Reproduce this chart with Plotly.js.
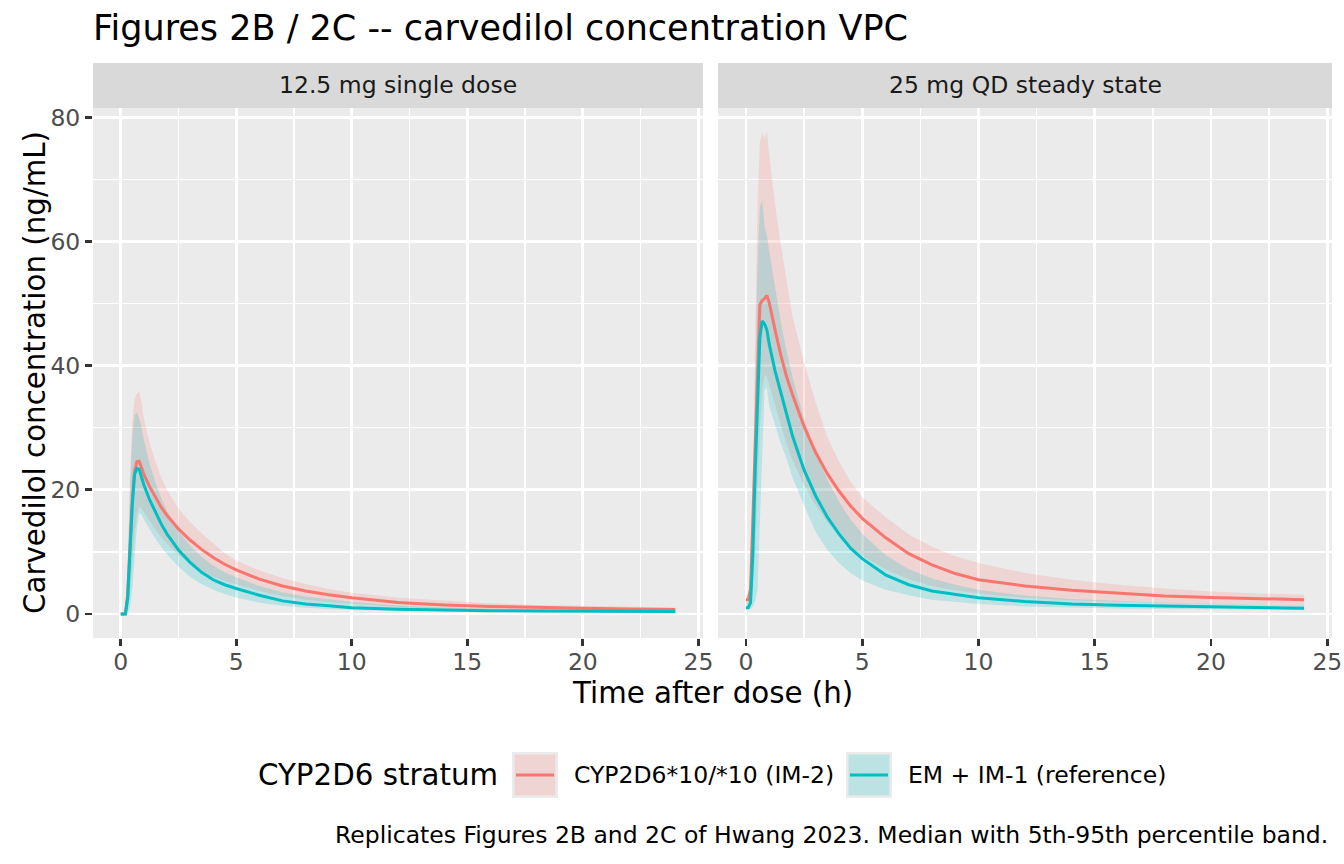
<!DOCTYPE html>
<html>
<head>
<meta charset="utf-8">
<script src="https://cdn.plot.ly/plotly-3.0.1.min.js"></script>
<style>
  body { margin: 0; background: #ffffff; }
</style>
</head>
<body>
<div id="chart" style="width:1344px;height:864px;"></div>
<script>
// time after dose (h), shared by both panels
var timeH = [0, 0.1, 0.2, 0.3, 0.4, 0.5, 0.6, 0.7, 0.8, 0.9, 1.0, 1.25, 1.5, 1.75, 2, 2.5, 3, 3.5, 4, 4.5, 5, 6, 7, 8, 9, 10, 12, 14, 16, 18, 20, 22, 24];

var panelNames = ["12.5 mg single dose", "25 mg QD steady state"];
var groupNames = ["CYP2D6*10/*10 (IM-2)", "EM + IM-1 (reference)"];

// 12.5 mg single dose -- CYP2D6*10/*10
var sdIm2Med = [0, 0, 0, 3, 11, 18.5, 23, 24.5, 24.6, 23.6, 22.5, 20.5, 18.8, 17.2, 15.9, 13.7, 11.9, 10.4, 9.1, 8.0, 7.1, 5.6, 4.5, 3.7, 3.1, 2.6, 1.85, 1.45, 1.2, 1.0, 0.9, 0.8, 0.7];
var sdIm2Lo  = [0, 0, 0, 0.5, 3, 8, 13, 16, 17.3, 17.0, 16.4, 15, 13.6, 12.4, 11.3, 9.5, 8.1, 6.9, 6.0, 5.3, 4.8, 3.7, 2.9, 2.3, 1.9, 1.6, 1.1, 0.85, 0.7, 0.6, 0.52, 0.46, 0.42];
var sdIm2Hi  = [0, 0, 0.2, 8, 22, 31, 34.5, 35.5, 35.8, 34, 31.5, 27.5, 24.5, 22, 20, 17, 14.8, 13, 11.4, 9.8, 8.6, 7.0, 5.8, 4.8, 4.0, 3.4, 2.6, 2.1, 1.7, 1.45, 1.3, 1.15, 1.05];

// 12.5 mg single dose -- EM + IM-1
var sdRefMed = [0, 0, 0, 2.5, 10, 17.5, 22.5, 23.4, 23.3, 22, 20.8, 18.4, 16.3, 14.5, 12.9, 10.3, 8.3, 6.7, 5.5, 4.7, 4.1, 3.0, 2.1, 1.6, 1.3, 1.0, 0.75, 0.6, 0.52, 0.47, 0.43, 0.4, 0.38];
var sdRefLo  = [0, 0, 0, 0, 1, 4, 9, 14, 16.2, 16.0, 15.2, 13.6, 12.1, 10.8, 9.6, 7.6, 6.0, 4.8, 3.9, 3.2, 2.6, 1.8, 1.3, 1.0, 0.8, 0.65, 0.48, 0.38, 0.33, 0.3, 0.27, 0.25, 0.23];
var sdRefHi  = [0, 0, 0.1, 7, 20, 28.5, 32, 32.5, 31.5, 30, 28, 24.2, 21.2, 18.7, 16.6, 13.4, 11, 9.2, 7.8, 6.7, 5.9, 4.5, 3.5, 2.8, 2.3, 1.9, 1.35, 1.05, 0.88, 0.78, 0.7, 0.64, 0.6];

// 25 mg QD steady state -- CYP2D6*10/*10
var ssIm2Med = [2.3, 2.3, 4, 16, 28, 40, 49.8, 50.5, 50.8, 51.3, 50.2, 45.8, 41.7, 38.2, 35.4, 30.2, 26.0, 22.6, 19.8, 17.4, 15.4, 12.3, 9.7, 7.9, 6.5, 5.5, 4.5, 3.8, 3.3, 2.9, 2.65, 2.45, 2.3];
var ssIm2Lo  = [1.6, 1.6, 2, 4, 10, 20, 30, 36, 38.5, 38.3, 37, 33.5, 30.2, 27.3, 24.8, 20.8, 17.5, 14.8, 12.6, 10.8, 9.4, 7.2, 5.6, 4.5, 3.8, 3.3, 2.6, 2.2, 1.95, 1.75, 1.6, 1.5, 1.45];
var ssIm2Hi  = [3.0, 3.1, 6, 22, 45, 66, 76, 77.5, 76.5, 77.8, 74, 66, 59.5, 53.5, 48, 40.5, 34, 28.5, 24.5, 21.3, 18.8, 15.6, 12.8, 10.8, 9.3, 8.2, 6.6, 5.5, 4.7, 4.1, 3.6, 3.3, 3.1];

// 25 mg QD steady state -- EM + IM-1
var ssRefMed = [1.0, 1.0, 1.8, 10, 23, 35, 44.5, 47.2, 46.7, 45.8, 43.5, 39.2, 35.8, 32, 28.7, 23.2, 19.0, 15.6, 12.9, 10.6, 8.9, 6.3, 4.7, 3.7, 3.1, 2.6, 2.0, 1.6, 1.4, 1.25, 1.1, 1.0, 0.9];
var ssRefLo  = [0.7, 0.7, 0.8, 1.2, 2, 4, 14, 27, 36, 36.5, 33.5, 30.5, 27.5, 25, 22, 17.5, 13.2, 10.3, 8.2, 6.6, 5.4, 3.9, 3.0, 2.3, 1.9, 1.6, 1.2, 0.98, 0.86, 0.78, 0.72, 0.68, 0.64];
var ssRefHi  = [1.6, 1.7, 3.5, 18, 38, 56, 65.5, 66.5, 62.5, 61, 58.5, 52.5, 47, 42.3, 38.2, 31.5, 26, 21.6, 18.1, 15.2, 12.9, 9.5, 7.2, 5.7, 4.7, 3.9, 2.95, 2.4, 2.05, 1.8, 1.62, 1.5, 1.4];

var im2Color = "#F8766D";
var refColor = "#00BFC4";
var im2Fill = "rgba(248,118,109,0.2)";
var refFill = "rgba(0,191,196,0.2)";
var fontFam = "DejaVu Sans, Verdana, sans-serif";

// pixel box of the panels, used to place strips / legend / labels
var plotL = 93, plotR = 1332, plotT = 108, plotB = 638;
function paperX(p) { return (p - plotL) / (plotR - plotL); }
function paperY(p) { return (plotB - p) / (plotB - plotT); }

function bandTraces(lo, hi, fillColor, xa, ya) {
  var lower = {
    x: timeH, y: lo, xaxis: xa, yaxis: ya,
    type: "scatter", mode: "lines",
    line: { width: 0 }, showlegend: false, hoverinfo: "skip"
  };
  var upper = {
    x: timeH, y: hi, xaxis: xa, yaxis: ya,
    type: "scatter", mode: "lines", fill: "tonexty", fillcolor: fillColor,
    line: { width: 0 }, showlegend: false, hoverinfo: "skip"
  };
  return [lower, upper];
}

function medianTrace(med, color, name, xa, ya) {
  return {
    x: timeH, y: med, xaxis: xa, yaxis: ya, name: name,
    type: "scatter", mode: "lines",
    line: { color: color, width: 3 }, showlegend: false
  };
}

var data = [];
data = data.concat(bandTraces(sdIm2Lo, sdIm2Hi, im2Fill, "x", "y"));
data = data.concat(bandTraces(sdRefLo, sdRefHi, refFill, "x", "y"));
data = data.concat(bandTraces(ssIm2Lo, ssIm2Hi, im2Fill, "x2", "y2"));
data = data.concat(bandTraces(ssRefLo, ssRefHi, refFill, "x2", "y2"));
data.push(medianTrace(sdIm2Med, im2Color, groupNames[0], "x", "y"));
data.push(medianTrace(sdRefMed, refColor, groupNames[1], "x", "y"));
data.push(medianTrace(ssIm2Med, im2Color, groupNames[0], "x2", "y2"));
data.push(medianTrace(ssRefMed, refColor, groupNames[1], "x2", "y2"));

var tickFont = { family: fontFam, size: 23.5, color: "#4D4D4D" };

function xAxis(domain) {
  return {
    domain: domain, range: [-1.2, 25.2], dtick: 5, tick0: 0,
    showgrid: true, gridcolor: "#FFFFFF", gridwidth: 2.8,
    minor: { dtick: 2.5, tick0: 0, showgrid: true, gridcolor: "#FFFFFF", gridwidth: 1.4 },
    zeroline: false, showline: false,
    ticks: "outside", ticklen: 7, tickwidth: 2.8, tickcolor: "#333333",
    ticklabelstandoff: -4,
    tickfont: tickFont
  };
}

var leftDom = [0, paperX(703)];
var rightDom = [paperX(718), 1];

var xa1 = xAxis(leftDom); xa1.anchor = "y";
var xa2 = xAxis(rightDom); xa2.anchor = "y2";

var yRange = [-3.88, 81.5];

var layout = {
  width: 1344, height: 864,
  margin: { l: plotL, r: 1344 - plotR, t: plotT, b: 864 - plotB },
  paper_bgcolor: "#FFFFFF",
  plot_bgcolor: "#EBEBEB",
  font: { family: fontFam, color: "#000000" },
  showlegend: false,
  title: {
    text: "Figures 2B / 2C -- carvedilol concentration VPC",
    font: { family: fontFam, size: 35, color: "#000000" },
    xref: "container", yref: "container",
    x: plotL / 1344, xanchor: "left",
    y: 1 - 28 / 864, yanchor: "middle"
  },
  xaxis: xa1,
  xaxis2: xa2,
  yaxis: {
    domain: [0, 1], range: yRange, dtick: 20, tick0: 0, anchor: "x",
    showgrid: true, gridcolor: "#FFFFFF", gridwidth: 2.8,
    minor: { dtick: 10, tick0: 0, showgrid: true, gridcolor: "#FFFFFF", gridwidth: 1.4 },
    zeroline: false, showline: false,
    ticks: "outside", ticklen: 7, tickwidth: 2.8, tickcolor: "#333333",
    tickfont: tickFont
  },
  yaxis2: {
    domain: [0, 1], range: yRange, dtick: 20, tick0: 0, anchor: "x2", matches: "y",
    showgrid: true, gridcolor: "#FFFFFF", gridwidth: 2.8,
    minor: { dtick: 10, tick0: 0, showgrid: true, gridcolor: "#FFFFFF", gridwidth: 1.4 },
    zeroline: false, showline: false, ticks: "", showticklabels: false
  },
  shapes: [],
  annotations: []
};

// facet strips
var stripTop = paperY(63);
[leftDom, rightDom].forEach(function(dom, i) {
  layout.shapes.push({
    type: "rect", xref: "paper", yref: "paper",
    x0: dom[0], x1: dom[1], y0: 1, y1: stripTop,
    fillcolor: "#D9D9D9", line: { width: 0 }, layer: "below"
  });
  layout.annotations.push({
    text: panelNames[i], xref: "paper", yref: "paper",
    x: (dom[0] + dom[1]) / 2, y: paperY(85.5),
    xanchor: "center", yanchor: "middle", showarrow: false,
    font: { family: fontFam, size: 23.5, color: "#1A1A1A" }
  });
});

// axis titles
layout.annotations.push({
  text: "Time after dose (h)", xref: "paper", yref: "paper",
  x: 0.5, y: paperY(693), xanchor: "center", yanchor: "middle", showarrow: false,
  font: { family: fontFam, size: 29.3, color: "#000000" }
});
layout.annotations.push({
  text: "Carvedilol concentration (ng/mL)", xref: "paper", yref: "paper",
  x: paperX(35), y: paperY(373), xanchor: "center", yanchor: "middle",
  textangle: -90, showarrow: false,
  font: { family: fontFam, size: 29.3, color: "#000000" }
});

// legend (drawn by hand to get ggplot-style square keys)
layout.annotations.push({
  text: "CYP2D6 stratum", xref: "paper", yref: "paper",
  x: paperX(256), y: paperY(775), xanchor: "left", yanchor: "middle", showarrow: false,
  font: { family: fontFam, size: 29.3, color: "#000000" }
});
var keyLeft = [512, 846];
var keyFills = [im2Fill, refFill];
var keyColors = [im2Color, refColor];
var labelLeft = [572, 906];
for (var k = 0; k < 2; k++) {
  var kx = keyLeft[k];
  layout.shapes.push({
    type: "rect", xref: "paper", yref: "paper",
    x0: paperX(kx), x1: paperX(kx + 46), y0: paperY(752), y1: paperY(798),
    fillcolor: "#EBEBEB", line: { width: 0 }
  });
  layout.shapes.push({
    type: "rect", xref: "paper", yref: "paper",
    x0: paperX(kx + 2.5), x1: paperX(kx + 43.5), y0: paperY(754.5), y1: paperY(795.5),
    fillcolor: keyFills[k], line: { width: 0 }
  });
  layout.shapes.push({
    type: "line", xref: "paper", yref: "paper",
    x0: paperX(kx + 4), x1: paperX(kx + 42), y0: paperY(775), y1: paperY(775),
    line: { color: keyColors[k], width: 3 }
  });
  layout.annotations.push({
    text: groupNames[k], xref: "paper", yref: "paper",
    x: paperX(labelLeft[k]), y: paperY(775), xanchor: "left", yanchor: "middle", showarrow: false,
    font: { family: fontFam, size: 23.5, color: "#000000" }
  });
}

// caption
layout.annotations.push({
  text: "Replicates Figures 2B and 2C of Hwang 2023. Median with 5th-95th percentile band.",
  xref: "paper", yref: "paper",
  x: paperX(1330), y: paperY(835), xanchor: "right", yanchor: "middle", showarrow: false,
  font: { family: fontFam, size: 23.5, color: "#000000" }
});

Plotly.newPlot("chart", data, layout, { displayModeBar: false, staticPlot: true });
</script>
</body>
</html>
